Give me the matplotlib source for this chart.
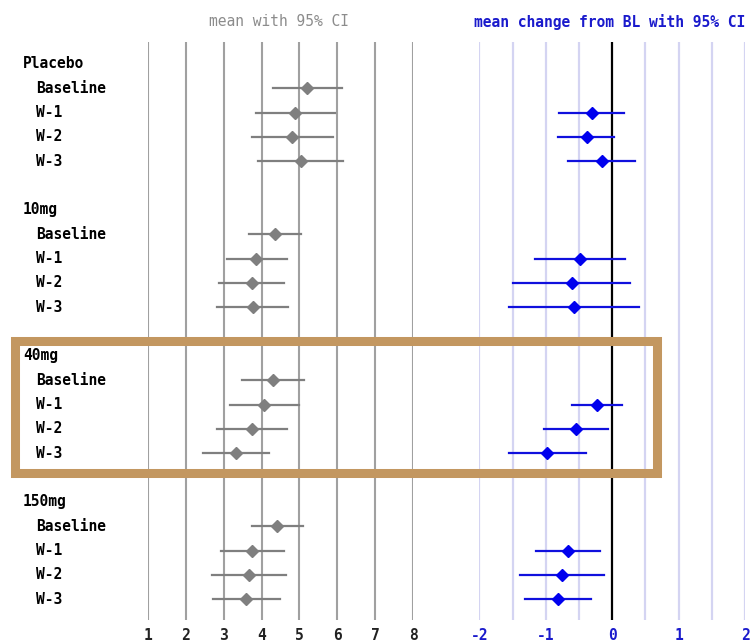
import numpy as np
import matplotlib.pyplot as plt
from matplotlib.patches import Rectangle
from matplotlib.transforms import blended_transform_factory

groups = ['Placebo', '10mg', '40mg', '150mg']
visits = ['Baseline', 'W-1', 'W-2', 'W-3']

# mean with 95% CI (rows: groups, cols: visits)
mean = [[5.19, 4.88, 4.81, 5.04],
        [4.35, 3.85, 3.74, 3.78],
        [4.31, 4.07, 3.76, 3.32],
        [4.42, 3.75, 3.66, 3.60]]
lo = [[4.29, 3.84, 3.74, 3.91],
      [3.67, 3.08, 2.87, 2.83],
      [3.49, 3.16, 2.83, 2.46],
      [3.75, 2.93, 2.69, 2.73]]
hi = [[6.13, 5.93, 5.89, 6.15],
      [5.03, 4.66, 4.59, 4.71],
      [5.12, 4.99, 4.68, 4.20],
      [5.10, 4.59, 4.64, 4.48]]

# mean change from baseline (W-1..W-3)
chg = [[-0.31, -0.38, -0.155],
       [-0.48, -0.61, -0.58],
       [-0.23, -0.55, -0.98],
       [-0.67, -0.75, -0.82]]
chg_lo = [[-0.80, -0.81, -0.66],
          [-1.16, -1.49, -1.55],
          [-0.60, -1.03, -1.56],
          [-1.15, -1.38, -1.31]]
chg_hi = [[0.18, 0.03, 0.35],
          [0.20, 0.27, 0.40],
          [0.15, -0.06, -0.40],
          [-0.19, -0.12, -0.32]]

left_ticks = [1, 2, 3, 4, 5, 6, 7, 8]
right_ticks = [-2, -1, 0, 1, 2]

mono = 'DejaVu Sans Mono'
W, H = 750, 641
fig = plt.figure(figsize=(7.5, 6.41), dpi=100)

y0, y1 = 42, 620
axL = fig.add_axes([148 / W, (H - y1) / H, (413 - 148) / W, (y1 - y0) / H])
axR = fig.add_axes([479.3 / W, (H - y1) / H, (745 - 479.3) / W, (y1 - y0) / H])

for ax in (axL, axR):
    ax.set_ylim(22.85, -0.9)
    ax.set_yticks([])
    for s in ax.spines.values():
        s.set_visible(False)
    ax.patch.set_alpha(0)
    ax.tick_params(axis='x', length=0, pad=6)

axL.set_xlim(1, 8)
axR.set_xlim(-2, 2)

for v in left_ticks:
    axL.axvline(v, color='#a0a0a0', lw=1.5, zorder=1)
for v in np.arange(-2, 2.01, 0.5):
    if v == 0:
        axR.axvline(v, color='black', lw=1.6, zorder=1)
    else:
        axR.axvline(v, color='#d4d4f2', lw=1.6, zorder=1)

axL.set_xticks(left_ticks)
axL.set_xticklabels([str(t) for t in left_ticks], family=mono, fontsize=10.5,
                    fontweight='bold', color='#222222')
axR.set_xticks(right_ticks)
axR.set_xticklabels([str(t) for t in right_ticks], family=mono, fontsize=10.5,
                    fontweight='bold', color='#1a1acc')

trans = blended_transform_factory(fig.transFigure, axL.transData)
for g, name in enumerate(groups):
    r0 = g * 6
    axL.text(23 / W, r0, name, transform=trans, family=mono, fontsize=10.5,
             fontweight='bold', va='center')
    for v, vis in enumerate(visits):
        r = r0 + 1 + v
        axL.text(36 / W, r, vis, transform=trans, family=mono, fontsize=10.5,
                 fontweight='bold', va='center')
        axL.plot([lo[g][v], hi[g][v]], [r, r], color='#7f7f7f', lw=1.6, zorder=2)
        axL.plot(mean[g][v], r, marker='D', ms=6.5, color='#7f7f7f', zorder=3)
        if v > 0:
            axR.plot([chg_lo[g][v - 1], chg_hi[g][v - 1]], [r, r], color='#1010dd',
                     lw=1.6, zorder=2)
            axR.plot(chg[g][v - 1], r, marker='D', ms=6.5, color='#0000ee', zorder=3)

fig.text(279 / W, 1 - 22 / H, 'mean with 95% CI', family=mono, fontsize=10.5,
         color='#8c8c8c', ha='center', va='center')
fig.text(610 / W, 1 - 22 / H, 'mean change from BL with 95% CI', family=mono,
         fontsize=10.5, fontweight='bold', color='#1a1acc', ha='center', va='center')

# highlight box around the 40mg group
box = Rectangle((14.5 / W, 1 - 472.5 / H), (656.5 - 14.5) / W, (472.5 - 340.5) / H,
                transform=fig.transFigure, fill=False, edgecolor='#c39760', lw=6.5,
                zorder=10)
fig.patches.append(box)

fig.savefig('out.png', dpi=100)
